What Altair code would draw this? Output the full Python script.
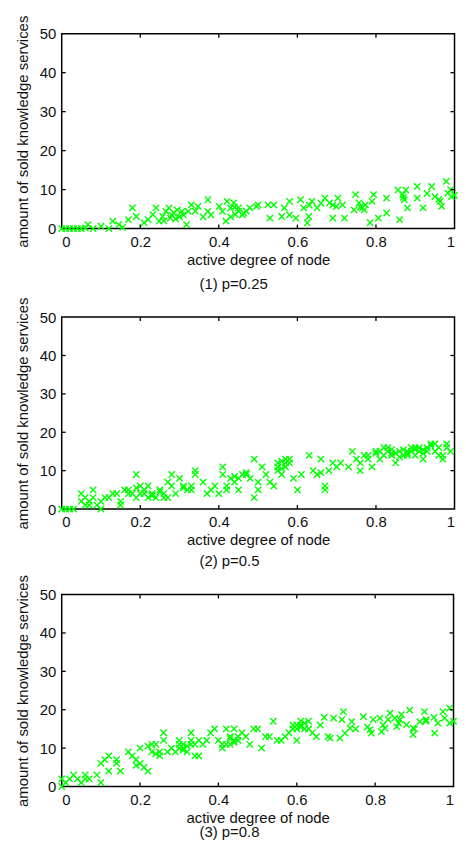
import altair as alt
import pandas as pd

# ---------------- data ----------------
x_ticks = [0, 0.2, 0.4, 0.6, 0.8, 1]
y_ticks = [0, 10, 20, 30, 40, 50]
x_inner = [0.2, 0.4, 0.6, 0.8]
y_inner = [10, 20, 30, 40]

captions = ["(1) p=0.25", "(2) p=0.5", "(3) p=0.8"]
x_title = "active degree of node"
y_title = "amount of sold knowledge services"

# panel (1) p=0.25
p1_x = [0.00, 0.01, 0.02, 0.03, 0.04, 0.05, 0.06, 0.067, 0.08, 0.10, 0.12, 0.13, 0.145, 0.155,
        0.17, 0.18, 0.19, 0.21, 0.22, 0.232, 0.24, 0.248, 0.257, 0.265, 0.273, 0.277, 0.285,
        0.294, 0.306, 0.318, 0.322, 0.33, 0.347, 0.372, 0.372, 0.401, 0.409, 0.418, 0.421,
        0.43, 0.438, 0.442, 0.45, 0.463, 0.479, 0.496,
        0.50, 0.525, 0.54, 0.53, 0.56, 0.567, 0.58, 0.596, 0.608, 0.616, 0.625, 0.629, 0.637,
        0.65, 0.67, 0.682, 0.69, 0.699, 0.703, 0.715, 0.72, 0.744, 0.748, 0.757, 0.765, 0.773,
        0.785, 0.79, 0.794, 0.806, 0.827, 0.827, 0.856, 0.86, 0.868, 0.876, 0.872, 0.88, 0.905,
        0.905, 0.92, 0.942, 0.95, 0.963, 0.967, 0.979, 0.983, 0.992,
        0.26, 0.28, 0.29, 0.30, 0.31, 0.34, 0.36, 0.38, 0.43, 0.44, 0.45, 0.46, 0.47, 0.58,
        0.63, 0.66, 0.69, 0.76, 0.77, 0.87, 0.93, 0.96, 1.00, 0.99]
p1_y = [0.0, 0.0, 0.0, 0.0, 0.0, 0.0, 0.2, 1.0, 0.0, 0.6, 0.0, 1.9, 1.0, 0.3,
        2.3, 5.3, 3.1, 1.5, 2.3, 3.6, 5.3, 1.9, 3.1, 4.4, 5.3, 2.7, 4.0,
        4.8, 4.4, 1.0, 4.4, 6.1, 5.7, 7.4, 4.4, 5.7, 4.4, 1.9, 7.0,
        5.3, 6.6, 3.6, 5.3, 4.0, 5.3, 5.7,
        6.1, 6.1, 6.1, 2.7, 3.1, 5.3, 7.0, 2.7, 7.4, 5.3, 1.5, 3.1, 7.0,
        5.3, 7.8, 6.6, 2.7, 5.7, 7.8, 6.1, 2.7, 4.8, 8.7, 6.6, 5.3, 6.1,
        1.5, 7.0, 8.7, 2.7, 7.8, 4.0, 9.9, 2.3, 8.7, 9.9, 7.4, 5.3, 10.8,
        7.8, 5.3, 10.8, 8.2, 7.0, 5.7, 12.1, 9.1, 8.2,
        2.0, 3.5, 2.5, 3.0, 3.5, 4.5, 3.0, 3.5, 3.0, 5.5, 4.5, 3.5, 4.5, 3.5,
        6.0, 6.5, 6.0, 5.5, 4.8, 8.0, 9.0, 7.5, 8.5, 10.0]

# panel (2) p=0.5
p2_x = [0.00, 0.01, 0.02, 0.03, 0.05, 0.05, 0.06, 0.07, 0.08, 0.08, 0.09, 0.10, 0.10, 0.11,
        0.13, 0.14, 0.15, 0.15, 0.16, 0.18, 0.19, 0.19, 0.20, 0.20, 0.21, 0.22, 0.22, 0.23,
        0.24, 0.25, 0.26, 0.27, 0.27, 0.28, 0.28, 0.30, 0.31, 0.32, 0.33, 0.34, 0.34, 0.36,
        0.37, 0.38, 0.39, 0.40, 0.41, 0.41, 0.42, 0.42, 0.43, 0.44, 0.45, 0.46, 0.47, 0.48,
        0.49, 0.49, 0.50, 0.50, 0.51, 0.52, 0.53, 0.54, 0.55, 0.55, 0.56, 0.57, 0.57, 0.58,
        0.59, 0.60, 0.61, 0.63, 0.64, 0.65, 0.66, 0.67, 0.67, 0.68, 0.69, 0.70, 0.71, 0.73,
        0.74, 0.75, 0.76, 0.77, 0.78, 0.79, 0.80, 0.81, 0.82, 0.83, 0.84, 0.85, 0.86, 0.87,
        0.88, 0.89, 0.90, 0.90, 0.91, 0.92, 0.93, 0.94, 0.95, 0.96, 0.97, 0.98, 0.99, 0.96,
        0.12, 0.17, 0.23, 0.29, 0.44, 0.56, 0.66, 0.84, 0.88, 0.92,
        0.80, 0.81, 0.82, 0.83, 0.84, 0.85, 0.86, 0.87, 0.88, 0.89, 0.90, 0.91, 0.92, 0.93,
        0.94, 0.95, 0.97, 0.98, 0.76, 0.78, 0.56, 0.57, 0.58, 0.55, 0.47, 0.45, 0.33, 0.31,
        0.21, 0.23, 0.25, 0.26, 0.17, 0.19, 0.06, 0.07]
p2_y = [0.0, 0.0, 0.0, 0.0, 4.0, 2.0, 1.0, 2.0, 5.0, 3.0, 1.0, 0.0, 2.0, 3.0,
        4.0, 4.0, 1.0, 2.0, 5.0, 4.0, 9.0, 3.0, 6.0, 4.0, 5.0, 3.0, 6.0, 4.0,
        3.0, 5.0, 4.0, 7.0, 3.0, 9.0, 6.0, 8.0, 6.0, 5.0, 6.0, 10.0, 9.0, 7.0,
        4.0, 5.0, 6.0, 4.0, 9.0, 11.0, 5.0, 6.0, 8.0, 7.0, 5.0, 9.0, 9.0, 8.0,
        3.0, 13.0, 7.0, 5.0, 11.0, 9.0, 7.0, 6.0, 12.0, 10.0, 9.0, 11.0, 13.0, 12.0,
        8.0, 5.0, 9.0, 14.0, 10.0, 9.0, 13.0, 6.0, 5.0, 10.0, 12.0, 11.0, 12.0, 11.0,
        15.0, 13.0, 10.0, 14.0, 13.0, 11.0, 15.0, 13.0, 16.0, 15.0, 14.0, 12.0, 15.0, 14.0,
        15.0, 16.0, 16.0, 14.0, 15.0, 13.0, 16.0, 17.0, 15.0, 16.0, 13.0, 17.0, 15.0, 14.0,
        3.0, 5.0, 3.5, 4.0, 8.5, 10.5, 9.5, 14.5, 14.0, 15.5,
        14.5, 15.0, 14.0, 16.0, 15.5, 14.5, 13.5, 15.5, 14.5, 15.0, 15.5, 16.0, 14.5, 15.0,
        16.5, 17.0, 14.0, 16.0, 12.0, 14.0, 12.5, 12.0, 13.0, 11.0, 9.5, 8.0, 5.0, 5.5,
        4.0, 3.5, 4.5, 3.0, 4.0, 5.5, 3.0, 1.0]

# panel (3) p=0.8
p3_x = [0.00, 0.00, 0.01, 0.02, 0.03, 0.04, 0.05, 0.06, 0.06, 0.07, 0.09, 0.10, 0.10, 0.11,
        0.12, 0.12, 0.14, 0.14, 0.15, 0.17, 0.18, 0.19, 0.20, 0.20, 0.21, 0.22, 0.23, 0.24,
        0.25, 0.25, 0.26, 0.26, 0.27, 0.28, 0.29, 0.30, 0.30, 0.31, 0.32, 0.33, 0.33, 0.34,
        0.34, 0.35, 0.35, 0.36, 0.37, 0.38, 0.39, 0.40, 0.41, 0.41, 0.42, 0.43, 0.43, 0.44,
        0.45, 0.46, 0.47, 0.48, 0.49, 0.50, 0.51, 0.52, 0.53, 0.54, 0.55, 0.56, 0.57, 0.58,
        0.59, 0.60, 0.60, 0.61, 0.62, 0.63, 0.64, 0.65, 0.66, 0.67, 0.68,
        0.19, 0.31, 0.44, 0.61,
        0.719, 0.694, 0.715, 0.740, 0.736, 0.710, 0.723, 0.770, 0.787, 0.795, 0.790, 0.812,
        0.816, 0.825, 0.838, 0.833, 0.850, 0.855, 0.863, 0.867, 0.888, 0.880, 0.897, 0.897,
        0.914, 0.926, 0.930, 0.952, 0.960, 0.973, 0.977, 0.990, 0.990, 0.685,
        0.30, 0.31, 0.32, 0.33, 0.42, 0.43, 0.44, 0.45, 0.59, 0.60, 0.61, 0.62, 0.63,
        0.22, 0.23, 0.24, 0.75, 0.78, 0.82, 0.86, 0.90, 0.93, 0.95, 1.00]
p3_y = [0.0, 2.0, 1.0, 2.0, 3.0, 2.0, 1.0, 3.0, 2.0, 2.0, 3.0, 1.0, 6.0, 7.0,
        8.0, 4.0, 6.0, 7.0, 4.0, 9.0, 8.0, 7.0, 10.0, 6.0, 5.0, 4.0, 11.0, 11.0,
        8.0, 9.0, 14.0, 12.0, 9.0, 10.0, 9.0, 12.0, 10.0, 10.0, 9.0, 14.0, 11.0, 8.0,
        11.0, 12.0, 8.0, 11.0, 12.0, 14.0, 15.0, 12.0, 10.0, 11.0, 15.0, 13.0, 11.0, 15.0,
        12.0, 14.0, 13.0, 11.0, 15.0, 15.0, 10.0, 13.0, 13.0, 17.0, 12.0, 12.0, 13.0, 14.0,
        16.0, 15.0, 12.0, 17.0, 15.0, 17.0, 14.0, 13.0, 16.0, 18.0, 13.0,
        5.5, 11.0, 12.0, 16.0,
        19.5, 17.8, 17.4, 16.9, 15.2, 12.6, 13.9, 18.2, 14.8, 17.4, 13.9, 17.8,
        14.3, 15.2, 19.1, 17.4, 17.8, 15.6, 17.4, 18.7, 19.9, 16.1, 15.2, 13.5,
        16.9, 19.5, 17.4, 13.9, 16.5, 19.5, 17.8, 20.4, 16.5, 12.6,
        11.0, 9.5, 10.5, 12.0, 11.0, 12.5, 11.5, 13.0, 15.0, 16.0, 15.5, 16.5, 15.0,
        10.5, 9.0, 8.5, 15.0, 15.5, 16.0, 16.5, 15.0, 17.0, 18.0, 17.0]

# ---------------- chart ----------------
FONT = "Liberation Sans"
GREEN = "#00ff00"
XMARK = "M-1,-1L1,1M-1,1L1,-1"
TICK_LEN = 4
FS = 15

X_AXIS = alt.Axis(values=x_ticks, format="~g", title=x_title)
Y_AXIS = alt.Axis(values=y_ticks, format="d", title=y_title)


def panel(xs, ys, w, h, caption, cap_offset):
    df = pd.DataFrame({"x": xs, "y": ys})
    xs_ = alt.Scale(domain=[0, 1], nice=False, zero=False)
    ys_ = alt.Scale(domain=[0, 50], nice=False)
    pts = alt.Chart(df).mark_point(
        shape=XMARK, filled=False, color=GREEN, strokeWidth=1.4, size=40, opacity=1
    ).encode(
        x=alt.X("x:Q", scale=xs_, axis=X_AXIS),
        y=alt.Y("y:Q", scale=ys_, axis=Y_AXIS),
    )
    xt = pd.DataFrame({"x": x_inner})
    yt = pd.DataFrame({"y": y_inner})
    rule = dict(color="black", strokeWidth=1.3)
    bottom = alt.Chart(xt).mark_rule(**rule).encode(
        x=alt.X("x:Q", scale=xs_, axis=X_AXIS), y=alt.value(h), y2=alt.value(h - TICK_LEN))
    top = alt.Chart(xt).mark_rule(**rule).encode(
        x=alt.X("x:Q", scale=xs_, axis=X_AXIS), y=alt.value(0), y2=alt.value(TICK_LEN))
    left = alt.Chart(yt).mark_rule(**rule).encode(
        y=alt.Y("y:Q", scale=ys_, axis=Y_AXIS), x=alt.value(0), x2=alt.value(TICK_LEN))
    right = alt.Chart(yt).mark_rule(**rule).encode(
        y=alt.Y("y:Q", scale=ys_, axis=Y_AXIS), x=alt.value(w), x2=alt.value(w - TICK_LEN))
    return alt.layer(pts, bottom, top, left, right).properties(
        width=w, height=h,
        title=alt.TitleParams(text=caption, orient="bottom", anchor="start", frame="group",
                              dx=138.5, offset=cap_offset, fontSize=FS, font=FONT,
                              fontWeight="normal", color="#111111"),
    )


p1 = panel(p1_x, p1_y, 395, 196, captions[0], 9.5)
p2 = panel(p2_x, p2_y, 395, 193, captions[1], 6.5)
p3 = panel(p3_x, p3_y, 394, 193, captions[2], 0)

chart = alt.vconcat(p1, p2, p3, spacing=3).properties(
    padding={"left": 6, "top": 3.5, "right": -3.5, "bottom": 0}
).configure_view(
    stroke="black", strokeWidth=1.5
).configure_axis(
    grid=False, domain=False, ticks=False,
    labelFont=FONT, labelFontSize=FS, labelColor="#111111",
    titleFont=FONT, titleFontSize=FS, titleColor="#111111", titleFontWeight="normal",
).configure_axisX(
    labelPadding=6, titlePadding=3,
).configure_axisY(
    labelPadding=6, titlePadding=9,
)

chart.save("out.html", embed_options={"renderer": "svg", "actions": False})
